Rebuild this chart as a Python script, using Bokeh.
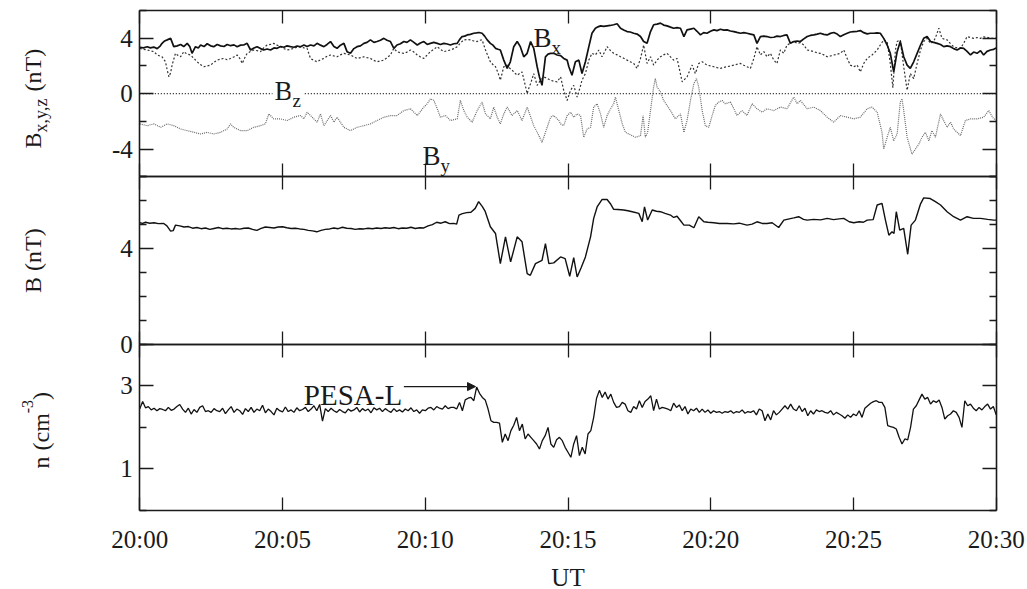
import numpy as np
from bokeh.plotting import figure
from bokeh.models import Range1d, LinearAxis, FixedTicker, Label, Arrow, NormalHead
from bokeh.embed import file_html
from bokeh.resources import INLINE

FONT = "Liberation Serif"
INK = "#1a1a1a"

# ---------------- data (minutes after 20:00 UT) ----------------
X_TICKS = [0, 5, 10, 15, 20, 25, 30]
X_TICK_LABELS = ["20:00", "20:05", "20:10", "20:15", "20:20", "20:25", "20:30"]

BXYZ_LIMITS = (-6, 6)
BXYZ_TICKS = [-4, 0, 4]
BXYZ_TICK_LABELS = ["-4", "0", "4"]
BXYZ_MINOR = [-6, -2, 2, 6]
B_LIMITS = (0, 7)
B_TICKS = [0, 4]
B_TICK_LABELS = ["0", "4"]
B_MINOR = [1, 2, 3, 5, 6, 7]
N_LIMITS = (0, 4)
N_TICKS = [1, 3]
N_TICK_LABELS = ["1", "3"]
N_MINOR = [0, 2, 4]
ZERO_LEVEL = 0.0

BX = [(0.0,3.35),(0.13,3.30),(0.26,3.38),(0.37,3.30),(0.49,3.36),(0.61,3.25),(0.72,3.45),(0.78,3.63),(0.87,3.80),(0.96,3.88),
      (1.08,3.99),(1.19,3.39),(1.31,3.45),(1.43,3.55),(1.54,3.40),(1.66,3.63),(1.75,3.40),(1.83,2.91),(1.95,3.39),(2.05,3.30),
      (2.13,3.51),(2.25,3.40),(2.36,3.60),(2.48,3.45),(2.59,3.39),(2.71,3.55),(2.83,3.45),(2.95,3.40),(3.06,3.55),(3.18,3.46),
      (3.30,3.52),(3.41,3.39),(3.53,3.50),(3.64,3.51),(3.76,3.63),(3.88,3.15),(4.00,3.30),(4.11,3.39),(4.23,3.25),(4.34,3.15),
      (4.46,3.22),(4.58,3.15),(4.70,3.30),(4.81,3.27),(4.93,3.40),(5.05,3.35),(5.16,3.45),(5.28,3.39),(5.40,3.35),(5.51,3.44),
      (5.63,3.38),(5.75,3.51),(5.86,3.40),(5.98,3.51),(6.10,3.45),(6.21,3.63),(6.33,3.50),(6.45,3.39),(6.56,3.55),(6.68,3.76),
      (6.80,3.40),(6.91,3.27),(7.03,3.50),(7.15,3.63),(7.26,3.03),(7.38,2.91),(7.50,3.25),(7.61,3.39),(7.73,3.45),(7.85,3.63),
      (7.96,3.70),(8.08,3.88),(8.20,3.70),(8.31,3.76),(8.43,3.85),(8.55,3.99),(8.66,3.85),(8.78,3.76),(8.90,3.27),(9.01,3.51),
      (9.13,3.60),(9.25,3.76),(9.36,3.70),(9.48,3.88),(9.60,3.70),(9.72,3.51),(9.83,3.65),(9.95,3.76),(10.07,3.55),(10.18,3.63),
      (10.30,3.70),(10.42,3.63),(10.53,3.55),(10.65,3.63),(10.77,3.58),(10.88,3.51),(11.00,3.60),(11.12,3.63),(11.20,3.90),(11.29,4.12),
      (11.38,4.15),(11.47,4.24),(11.58,4.28),(11.70,4.36),(11.80,4.38),(11.88,4.41),(11.99,4.36),(12.08,4.15),(12.17,3.88),(12.28,3.63),
      (12.37,3.50),(12.46,3.27),(12.55,3.20),(12.63,3.15),(12.75,2.42),(12.87,1.82),(12.98,2.30),(13.10,3.39),(13.22,3.76),(13.33,3.39),
      (13.45,2.66),(13.57,2.91),(13.69,3.76),(13.80,3.27),(13.92,1.94),(14.00,1.20),(14.09,0.60),(14.21,2.66),(14.30,2.85),(14.39,2.91),
      (14.50,2.91),(14.62,2.79),(14.74,2.75),(14.85,2.54),(14.97,2.42),(15.03,1.94),(15.14,1.33),(15.26,2.30),(15.38,2.42),(15.49,1.45),
      (15.61,2.30),(15.73,3.39),(15.84,4.36),(15.96,4.72),(16.05,4.82),(16.14,4.89),(16.25,4.85),(16.37,4.89),(16.48,4.92),(16.60,4.97),
      (16.72,5.04),(16.84,4.72),(16.95,4.60),(17.07,4.48),(17.18,4.45),(17.30,4.36),(17.42,4.30),(17.54,4.12),(17.65,3.76),(17.77,3.63),
      (17.89,4.48),(18.00,4.97),(18.12,5.02),(18.24,5.09),(18.35,4.95),(18.47,4.89),(18.59,4.80),(18.70,4.72),(18.82,4.76),(18.94,4.72),
      (19.06,4.12),(19.17,4.60),(19.29,4.66),(19.41,4.72),(19.52,4.50),(19.64,4.24),(19.75,4.40),(19.87,4.36),(19.99,4.50),(20.11,4.60),
      (20.22,4.55),(20.34,4.65),(20.46,4.58),(20.57,4.60),(20.69,4.52),(20.81,4.48),(20.92,4.42),(21.04,4.36),(21.16,4.40),(21.27,4.36),
      (21.39,4.30),(21.51,4.24),(21.62,3.63),(21.74,4.12),(21.86,4.15),(21.97,4.12),(22.09,4.05),(22.21,4.07),(22.32,4.15),(22.44,4.12),
      (22.56,4.20),(22.67,4.24),(22.79,3.63),(22.91,3.76),(23.03,3.80),(23.14,3.76),(23.26,3.95),(23.38,4.12),(23.49,4.20),(23.61,4.24),
      (23.73,4.30),(23.84,4.36),(23.96,4.28),(24.08,4.24),(24.19,4.35),(24.31,4.41),(24.43,4.30),(24.54,4.12),(24.66,4.25),(24.78,4.36),
      (24.89,4.45),(25.01,4.48),(25.13,4.50),(25.24,4.55),(25.36,4.40),(25.48,4.31),(25.59,4.36),(25.71,4.36),(25.83,4.38),(25.94,4.36),
      (26.06,3.99),(26.18,3.51),(26.29,2.91),(26.41,1.57),(26.53,3.03),(26.64,3.76),(26.76,2.66),(26.88,2.06),(26.99,1.82),(27.11,2.30),
      (27.23,2.91),(27.35,3.51),(27.46,3.99),(27.58,4.12),(27.70,3.76),(27.81,3.70),(27.93,3.63),(28.05,3.55),(28.16,3.39),(28.28,3.45),
      (28.40,3.39),(28.51,3.25),(28.63,3.15),(28.75,3.30),(28.86,3.27),(28.98,3.05),(29.10,2.79),(29.21,3.00),(29.33,2.91),(29.45,3.10),
      (29.56,2.79),(29.68,3.05),(29.80,3.15),(29.91,3.20),(30.0,3.30)]

BZ = [(0.0,3.27),(0.13,3.20),(0.26,3.15),(0.37,3.10),(0.49,3.03),(0.61,2.79),(0.72,2.70),(0.78,2.66),(0.90,2.30),(0.96,1.70),
      (1.02,1.21),(1.08,1.50),(1.13,2.06),(1.25,2.91),(1.34,2.75),(1.43,2.66),(1.54,3.03),(1.66,2.85),(1.78,2.79),(1.89,2.55),
      (2.01,2.30),(2.12,2.10),(2.24,1.94),(2.36,2.00),(2.48,2.06),(2.59,2.25),(2.71,2.42),(2.83,2.50),(2.94,2.54),(3.06,2.45),
      (3.18,2.54),(3.29,2.65),(3.41,2.79),(3.50,2.55),(3.59,2.18),(3.68,2.60),(3.76,2.91),(3.88,3.05),(3.99,3.15),(4.11,3.10),
      (4.23,3.03),(4.34,3.30),(4.46,3.51),(4.58,3.55),(4.69,3.63),(4.81,3.50),(4.93,3.39),(5.05,3.25),(5.16,3.15),(5.28,3.20),
      (5.40,3.27),(5.51,3.35),(5.63,3.39),(5.75,3.30),(5.86,3.27),(5.92,2.90),(5.98,2.54),(6.10,2.40),(6.21,2.30),(6.33,2.45),
      (6.45,2.54),(6.56,2.70),(6.68,2.79),(6.80,2.72),(6.91,2.66),(7.03,2.80),(7.15,2.91),(7.26,2.85),(7.38,2.79),(7.50,2.65),
      (7.61,2.54),(7.73,2.60),(7.85,2.66),(7.96,2.60),(8.08,2.54),(8.20,2.40),(8.31,2.30),(8.43,2.36),(8.55,2.42),(8.66,2.60),
      (8.78,2.79),(8.84,3.05),(8.90,3.27),(9.01,3.03),(9.13,2.95),(9.25,2.91),(9.36,3.00),(9.48,3.15),(9.60,3.00),(9.72,2.79),
      (9.83,2.65),(9.95,2.54),(10.07,2.80),(10.18,3.03),(10.30,3.20),(10.42,3.39),(10.53,3.20),(10.65,3.03),(10.77,3.10),(10.88,3.15),
      (11.00,3.25),(11.12,3.39),(11.23,3.65),(11.35,3.88),(11.47,3.90),(11.58,3.88),(11.70,3.80),(11.82,3.76),(11.90,3.85),(11.99,3.88),
      (12.11,3.15),(12.20,2.70),(12.28,2.30),(12.37,2.10),(12.46,1.94),(12.55,1.50),(12.63,0.97),(12.75,1.94),(12.87,2.06),(12.95,1.85),
      (13.04,1.70),(13.13,1.50),(13.22,1.33),(13.30,1.45),(13.39,1.57),(13.48,0.80),(13.57,0.00),(13.63,0.40),(13.69,0.73),(13.80,1.45),
      (13.92,0.60),(14.03,0.95),(14.15,1.21),(14.27,1.10),(14.39,0.97),(14.50,0.90),(14.62,0.85),(14.74,1.21),(14.85,0.24),(14.97,-0.49),
      (15.09,0.24),(15.20,0.60),(15.32,-0.25),(15.43,0.50),(15.49,0.97),(15.61,1.45),(15.73,2.42),(15.84,2.91),(15.96,2.79),(16.08,3.15),
      (16.19,2.66),(16.28,3.00),(16.37,3.39),(16.49,3.10),(16.60,2.91),(16.72,2.80),(16.84,2.66),(16.95,2.55),(17.07,2.42),(17.18,2.30),
      (17.30,2.18),(17.42,1.82),(17.54,2.54),(17.65,3.51),(17.77,2.18),(17.89,2.66),(18.00,2.06),(18.12,2.42),(18.24,2.66),(18.35,2.80),
      (18.47,2.91),(18.59,2.65),(18.70,2.42),(18.82,2.54),(18.91,1.70),(19.00,0.85),(19.17,1.21),(19.35,2.06),(19.46,1.45),(19.58,2.18),
      (19.70,2.30),(19.87,2.06),(19.99,2.00),(20.11,1.94),(20.22,1.88),(20.34,1.82),(20.46,1.90),(20.57,1.94),(20.69,2.00),(20.81,2.06),
      (20.92,2.12),(21.04,2.18),(21.16,2.05),(21.27,1.94),(21.39,1.82),(21.51,2.54),(21.62,3.39),(21.74,2.79),(21.86,3.03),(21.97,2.66),
      (22.09,2.91),(22.21,2.42),(22.32,2.18),(22.44,3.15),(22.56,2.91),(22.67,3.51),(22.79,3.63),(22.91,3.76),(23.03,3.63),(23.14,3.68),
      (23.26,3.51),(23.38,3.15),(23.49,3.10),(23.61,3.03),(23.73,2.95),(23.84,2.91),(23.96,2.80),(24.08,2.66),(24.19,2.72),(24.31,2.79),
      (24.43,2.85),(24.54,2.91),(24.66,3.15),(24.78,2.54),(24.89,2.06),(25.01,1.94),(25.13,2.06),(25.24,1.57),(25.36,2.18),(25.48,2.54),
      (25.65,2.79),(25.83,3.15),(25.94,3.51),(26.06,3.88),(26.18,3.76),(26.29,2.18),(26.38,0.43),(26.47,3.15),(26.53,3.76),(26.64,3.88),
      (26.76,1.94),(26.88,0.24),(26.99,1.45),(27.11,1.09),(27.23,2.18),(27.35,3.15),(27.46,3.76),(27.58,3.99),(27.70,3.63),(27.81,3.76),
      (27.90,4.20),(27.99,4.72),(28.10,3.99),(28.28,3.88),(28.40,3.60),(28.51,3.39),(28.63,3.30),(28.75,3.27),(28.86,3.63),(28.98,4.12),
      (29.10,4.05),(29.21,3.99),(29.33,4.05),(29.45,3.99),(29.56,4.10),(29.68,4.07),(29.80,4.00),(29.91,3.99),(30.0,4.00)]

BY = [(0.0,-2.18),(0.26,-2.31),(0.49,-2.18),(0.73,-2.43),(0.96,-2.18),(1.19,-2.31),(1.43,-2.55),(1.66,-2.67),(1.89,-2.79),(2.13,-2.91),
      (2.36,-2.79),(2.59,-2.91),(2.83,-2.79),(3.06,-2.55),(3.18,-2.18),(3.29,-2.43),(3.53,-2.67),(3.76,-2.67),(3.99,-2.43),(4.23,-2.31),
      (4.40,-2.18),(4.52,-1.46),(4.69,-1.82),(4.93,-1.82),(5.16,-1.94),(5.40,-1.70),(5.63,-1.58),(5.75,-1.82),(5.86,-1.34),(6.04,-1.70),
      (6.21,-2.06),(6.33,-1.46),(6.45,-2.31),(6.68,-1.58),(6.80,-2.06),(6.91,-1.70),(7.15,-2.43),(7.38,-2.67),(7.61,-2.43),(7.85,-2.31),
      (8.08,-2.18),(8.31,-1.94),(8.55,-1.70),(8.78,-1.58),(9.01,-1.58),(9.25,-1.22),(9.48,-1.09),(9.72,-1.58),(9.95,-0.97),(10.07,-0.73),
      (10.18,-0.37),(10.30,-0.49),(10.42,-1.09),(10.53,-1.70),(10.71,-1.58),(10.88,-1.94),(11.12,-1.82),(11.23,-0.49),(11.35,-1.22),(11.47,-1.70),
      (11.64,-2.06),(11.82,-1.22),(11.99,-0.61),(12.11,-1.46),(12.28,-1.82),(12.40,-0.97),(12.52,-1.70),(12.63,-2.18),(12.75,-1.46),(12.87,-0.97),
      (13.04,-1.58),(13.22,-1.22),(13.39,-1.94),(13.57,-0.97),(13.80,-2.31),(13.98,-3.03),(14.09,-3.52),(14.21,-2.79),(14.39,-1.70),(14.50,-1.58),
      (14.68,-1.94),(14.74,-2.18),(14.85,-2.31),(14.97,-1.58),(15.09,-1.34),(15.20,-1.70),(15.32,-1.46),(15.44,-1.58),(15.55,-3.15),(15.67,-2.55),
      (15.79,-2.43),(15.90,-0.97),(16.02,-0.73),(16.14,-1.46),(16.25,-2.43),(16.37,-1.58),(16.49,-1.09),(16.60,-0.73),(16.66,-0.25),(16.78,-1.22),
      (16.90,-2.18),(17.01,-2.79),(17.13,-2.91),(17.25,-3.03),(17.36,-3.15),(17.54,-3.03),(17.63,-1.58),(17.71,-3.15),(17.79,-2.79),(17.89,-1.22),
      (18.00,0.48),(18.06,1.09),(18.12,0.48),(18.24,0.12),(18.35,-0.49),(18.47,-0.85),(18.59,-1.22),(18.76,-1.82),(18.94,-1.46),(19.06,-2.79),
      (19.17,-1.94),(19.29,-0.49),(19.41,0.73),(19.50,1.09),(19.58,0.48),(19.70,-1.22),(19.81,-2.31),(19.93,-2.43),(20.05,-1.58),(20.16,-0.85),
      (20.28,-0.61),(20.40,-0.49),(20.51,-0.73),(20.69,-0.61),(20.81,-1.09),(20.92,-1.58),(21.10,-1.22),(21.27,-1.58),(21.45,-0.73),(21.62,-1.09),
      (21.80,-1.34),(21.97,-1.09),(22.21,-1.22),(22.44,-0.97),(22.67,-1.09),(22.91,-0.25),(23.03,-0.73),(23.14,-0.49),(23.38,-1.09),(23.61,-0.97),
      (23.84,-1.22),(24.08,-1.70),(24.31,-2.06),(24.54,-1.58),(24.78,-1.70),(25.01,-1.82),(25.24,-1.70),(25.48,-1.09),(25.65,-0.97),(25.83,-1.34),
      (26.00,-2.79),(26.06,-4.00),(26.18,-3.15),(26.29,-2.43),(26.41,-3.40),(26.53,-2.91),(26.64,-0.61),(26.70,-0.37),(26.76,-1.22),(26.88,-3.15),
      (27.05,-4.37),(27.17,-4.00),(27.29,-3.64),(27.40,-3.15),(27.52,-2.79),(27.64,-3.40),(27.75,-2.67),(27.87,-3.15),(28.05,-1.46),(28.16,-1.94),
      (28.28,-2.43),(28.40,-2.06),(28.51,-2.55),(28.75,-3.03),(28.92,-1.94),(29.10,-1.82),(29.33,-1.82),(29.56,-1.70),(29.74,-1.22),(29.91,-1.82),
      (30.0,-1.90)]

BMAG = [(0.0,5.08),(0.1,5.05),(0.2,5.10),(0.35,5.06),(0.5,5.08),(0.65,5.04),(0.84,5.05),(0.95,4.95),(1.08,4.73),(1.17,4.75),
        (1.25,4.98),(1.4,4.95),(1.55,4.90),(1.7,4.92),(1.85,4.85),(2.0,4.88),(2.15,4.83),(2.3,4.86),(2.45,4.80),(2.6,4.84),
        (2.75,4.88),(2.9,4.83),(3.05,4.85),(3.2,4.82),(3.35,4.84),(3.5,4.81),(3.65,4.85),(3.8,4.86),(3.95,4.80),(4.1,4.76),
        (4.25,4.84),(4.4,4.90),(4.55,4.88),(4.7,4.86),(4.85,4.90),(5.0,4.91),(5.15,4.87),(5.3,4.84),(5.45,4.85),(5.6,4.82),
        (5.75,4.80),(5.9,4.76),(6.05,4.74),(6.2,4.70),(6.35,4.76),(6.5,4.80),(6.65,4.82),(6.8,4.86),(6.95,4.83),(7.1,4.89),
        (7.25,4.85),(7.4,4.84),(7.55,4.80),(7.7,4.83),(7.85,4.82),(8.0,4.85),(8.15,4.83),(8.3,4.86),(8.45,4.84),(8.6,4.87),
        (8.75,4.85),(8.9,4.88),(9.05,4.83),(9.2,4.86),(9.35,4.85),(9.5,4.89),(9.65,4.84),(9.8,4.87),(9.95,4.86),(10.1,4.95),
        (10.25,5.00),(10.4,5.10),(10.55,5.06),(10.7,5.12),(10.85,5.04),(11.0,5.05),(11.1,5.02),(11.18,5.40),(11.3,5.46),(11.45,5.50),
        (11.6,5.52),(11.75,5.68),(11.87,5.96),(12.0,5.75),(12.1,5.55),(12.28,4.91),(12.46,4.63),(12.63,3.37),(12.81,4.49),(12.99,3.44),
        (13.22,4.49),(13.39,4.28),(13.57,2.95),(13.68,2.88),(13.86,3.37),(14.09,3.51),(14.21,4.21),(14.33,3.37),(14.5,3.40),(14.74,3.65),
        (14.9,3.58),(15.06,2.84),(15.2,3.62),(15.32,2.81),(15.46,3.20),(15.61,3.65),(15.79,4.49),(15.9,5.26),(16.02,5.74),(16.19,6.05),
        (16.37,6.05),(16.5,5.85),(16.6,5.64),(16.75,5.63),(16.95,5.61),(17.1,5.58),(17.25,5.54),(17.48,5.47),(17.6,5.12),(17.68,5.74),
        (17.79,5.19),(17.95,5.61),(18.1,5.56),(18.24,5.54),(18.4,5.47),(18.59,5.40),(18.7,5.30),(18.82,5.35),(18.95,5.15),(19.06,4.98),
        (19.25,4.98),(19.41,4.87),(19.58,5.33),(19.76,5.12),(19.9,5.10),(20.11,5.08),(20.3,5.05),(20.57,5.05),(20.8,5.03),(21.0,5.06),
        (21.27,4.98),(21.45,5.02),(21.62,5.12),(21.8,5.05),(21.97,5.05),(22.15,5.08),(22.38,4.88),(22.56,5.19),(22.75,5.24),(22.91,5.28),
        (23.08,5.33),(23.25,5.22),(23.38,5.19),(23.6,5.22),(23.85,5.20),(24.08,5.26),(24.3,5.21),(24.5,5.24),(24.66,5.26),(24.85,5.12),
        (25.01,5.08),(25.2,5.12),(25.35,5.10),(25.48,5.19),(25.69,5.21),(25.83,5.82),(26.0,5.89),(26.12,5.19),(26.24,4.56),(26.35,4.70),
        (26.42,4.63),(26.5,5.54),(26.62,4.77),(26.76,4.84),(26.9,3.76),(27.02,4.98),(27.17,5.19),(27.35,5.87),(27.46,6.12),(27.69,6.09),
        (27.87,5.96),(28.05,5.82),(28.28,5.54),(28.51,5.33),(28.75,5.19),(28.98,5.33),(29.2,5.26),(29.45,5.26),(29.7,5.22),(29.91,5.19),
        (30.0,5.19)]

# PESA-L density, one sample every 0.1 min (rows = whole minutes 0..29, then 30.0)
N_VALUES = [
    2.45, 2.62, 2.47, 2.50, 2.42, 2.46, 2.40, 2.45, 2.43, 2.40,
    2.48, 2.41, 2.44, 2.50, 2.55, 2.44, 2.36, 2.46, 2.32, 2.43,
    2.36, 2.48, 2.52, 2.38, 2.40, 2.36, 2.45, 2.40, 2.38, 2.46,
    2.33, 2.42, 2.50, 2.36, 2.44, 2.40, 2.31, 2.45, 2.38, 2.48,
    2.36, 2.44, 2.40, 2.53, 2.35, 2.44, 2.38, 2.30, 2.46, 2.40,
    2.37, 2.49, 2.38, 2.42, 2.36, 2.47, 2.40, 2.43, 2.48, 2.38,
    2.44, 2.52, 2.40, 2.55, 2.15, 2.45, 2.38, 2.46, 2.40, 2.36,
    2.43, 2.38, 2.35, 2.44, 2.39, 2.42, 2.48, 2.37, 2.45, 2.40,
    2.44, 2.35, 2.47, 2.42, 2.46, 2.38, 2.45, 2.40, 2.36, 2.45,
    2.38, 2.42, 2.37, 2.44, 2.40, 2.47, 2.38, 2.42, 2.34, 2.42,
    2.40, 2.46, 2.48, 2.42, 2.50, 2.46, 2.44, 2.52, 2.45, 2.48,
    2.48, 2.44, 2.60, 2.40, 2.66, 2.70, 2.72, 2.64, 2.97, 2.82,
    2.72, 2.66, 2.44, 2.16, 2.12, 2.12, 2.10, 1.64, 1.84, 1.68,
    1.92, 2.05, 2.24, 1.92, 2.08, 1.72, 1.84, 1.76, 1.68, 1.60,
    1.48, 1.68, 1.80, 2.00, 1.60, 1.52, 1.70, 1.76, 1.68, 1.52,
    1.40, 1.28, 1.60, 1.80, 1.32, 1.52, 1.36, 1.84, 1.92, 2.24,
    2.70, 2.89, 2.72, 2.85, 2.68, 2.80, 2.60, 2.48, 2.50, 2.60,
    2.56, 2.40, 2.36, 2.50, 2.44, 2.64, 2.48, 2.62, 2.68, 2.76,
    2.40, 2.68, 2.44, 2.48, 2.46, 2.44, 2.40, 2.58, 2.48, 2.54,
    2.40, 2.50, 2.32, 2.44, 2.40, 2.46, 2.36, 2.44, 2.36, 2.42,
    2.34, 2.40, 2.36, 2.38, 2.34, 2.38, 2.36, 2.40, 2.34, 2.38,
    2.36, 2.42, 2.34, 2.38, 2.36, 2.40, 2.30, 2.44, 2.40, 2.16,
    2.32, 2.18, 2.40, 2.30, 2.36, 2.44, 2.52, 2.44, 2.56, 2.44,
    2.40, 2.52, 2.38, 2.46, 2.28, 2.40, 2.32, 2.42, 2.38, 2.40,
    2.36, 2.34, 2.40, 2.30, 2.36, 2.32, 2.28, 2.22, 2.30, 2.24,
    2.32, 2.28, 2.40, 2.24, 2.46, 2.52, 2.58, 2.62, 2.64, 2.60,
    2.60, 2.48, 2.04, 2.02, 2.00, 1.96, 1.76, 1.60, 1.72, 1.70,
    2.00, 2.44, 2.52, 2.66, 2.80, 2.68, 2.72, 2.56, 2.64, 2.60,
    2.66, 2.48, 2.20, 2.28, 2.32, 2.40, 2.36, 2.24, 2.00, 2.64,
    2.52, 2.56, 2.46, 2.40, 2.48, 2.42, 2.50, 2.56, 2.44, 2.50,
    2.30]
N_TIMES = [i / 10 for i in range(len(N_VALUES))]


def split(pairs):
    return [a for a, _ in pairs], [b for _, b in pairs]


# ---------------- layout (one canvas, three stacked panels) ----------------
W, H = 1027, 589
X_LEFT, X_RIGHT = 139.3, 995.7            # canvas px of 20:00 and 20:30
T0, T1 = X_TICKS[0], X_TICKS[-1]
PPX = (X_RIGHT - X_LEFT) / (T1 - T0)
PANEL_BOX = {"bxyz": (10.0, 176.3), "bmag": (176.3, 343.7), "dens": (343.7, 510.0)}
PANEL_LIM = {"bxyz": BXYZ_LIMITS, "bmag": B_LIMITS, "dens": N_LIMITS}


def panel_range(name):
    top, bottom = PANEL_BOX[name]
    lo, hi = PANEL_LIM[name]
    ppu = (bottom - top) / (hi - lo)
    return Range1d(lo - (H - bottom) / ppu, hi + top / ppu)


p = figure(width=W, height=H,
           x_range=Range1d(T0 - X_LEFT / PPX, T1 + (W - X_RIGHT) / PPX),
           y_range=panel_range("dens"),
           x_axis_location=None, y_axis_location=None,
           output_backend="svg", toolbar_location=None, min_border=0)
p.extra_y_ranges = {k: panel_range(k) for k in PANEL_BOX}
p.grid.visible = False
p.outline_line_color = None
p.background_fill_color = "white"
p.border_fill_color = "white"


def style_axis(ax, major_in, minor_in):
    ax.axis_line_color = INK
    ax.axis_line_width = 1.6
    ax.major_tick_in = major_in
    ax.major_tick_out = 0
    ax.minor_tick_in = minor_in
    ax.minor_tick_out = 0
    ax.major_tick_line_color = INK
    ax.minor_tick_line_color = INK
    ax.major_tick_line_width = 1.3
    ax.minor_tick_line_width = 1.3
    ax.major_label_text_font = FONT
    ax.major_label_text_font_size = "25px"
    ax.major_label_text_color = INK


def add_panel_axes(name, ticks, tick_labels, minor, time_labels=False):
    lo, hi = PANEL_LIM[name]
    for side, loc in (("left", T0), ("right", T1)):
        ax = LinearAxis(y_range_name=name, fixed_location=loc, bounds=(lo, hi),
                        ticker=FixedTicker(ticks=ticks, minor_ticks=minor))
        style_axis(ax, 14, 7)
        if side == "left":
            ax.major_label_standoff = 7
            ax.major_label_overrides = dict(zip(ticks, tick_labels))
        else:
            ax.major_label_text_color = None
        p.add_layout(ax, side)
    for side, loc in (("above", hi), ("below", lo)):
        ax = LinearAxis(y_range_name=name, fixed_location=loc, bounds=(T0, T1),
                        ticker=FixedTicker(ticks=X_TICKS, minor_ticks=[]))
        style_axis(ax, 13, 0)
        if time_labels and side == "below":
            ax.major_label_overrides = dict(zip(X_TICKS, X_TICK_LABELS))
            ax.major_label_standoff = 15
            ax.axis_label = "UT"
            ax.axis_label_text_font = FONT
            ax.axis_label_text_font_size = "25px"
            ax.axis_label_text_font_style = "normal"
            ax.axis_label_text_color = INK
            ax.axis_label_standoff = 8
        else:
            ax.major_label_text_color = None
        p.add_layout(ax, side)


def txt(panel, x, y, s, size, angle=0.0, align="left", bg=None):
    lab = Label(x=x, y=y, y_range_name=panel, text=s, text_font=FONT, text_font_size=size,
                text_color=INK, text_align=align, text_baseline="alphabetic", angle=angle)
    if bg:
        lab.background_fill_color = bg
        lab.padding = 2
    p.add_layout(lab)


HALF_PI = np.pi / 2

# ---------------- panel 1: Bx, By, Bz ----------------
add_panel_axes("bxyz", BXYZ_TICKS, BXYZ_TICK_LABELS, BXYZ_MINOR)
p.line([T0, T1], [ZERO_LEVEL, ZERO_LEVEL], y_range_name="bxyz",
       line_color=INK, line_width=1.4, line_dash="1 2")
t, v = split(BY)
p.line(t, v, y_range_name="bxyz", line_color="#6a6a6a", line_width=1.2, line_dash="1 1")
t, v = split(BZ)
p.line(t, v, y_range_name="bxyz", line_color="#333333", line_width=1.2, line_dash="2 2")
t, v = split(BX)
p.line(t, v, y_range_name="bxyz", line_color="#111111", line_width=1.7)

txt("bxyz", 13.79, 3.98, "B", "27px")
txt("bxyz", 14.42, 3.35, "x", "19px")
txt("bxyz", 4.65, 0.18, "B", "27px", bg="white")
txt("bxyz", 5.28, -0.47, "z", "19px", bg="white")
txt("bxyz", 9.90, -4.51, "B", "27px")
txt("bxyz", 10.53, -5.22, "y", "19px")

txt("bxyz", -3.74, -3.96, "B", "24px", angle=HALF_PI)
txt("bxyz", -3.46, -2.80, "x,y,z", "18px", angle=HALF_PI)
txt("bxyz", -3.74, 0.16, "(nT)", "24px", angle=HALF_PI)

# ---------------- panel 2: |B| ----------------
add_panel_axes("bmag", B_TICKS, B_TICK_LABELS, B_MINOR)
t, v = split(BMAG)
p.line(t, v, y_range_name="bmag", line_color="#111111", line_width=1.4)
txt("bmag", -3.74, 2.14, "B (nT)", "24px", angle=HALF_PI)

# ---------------- panel 3: n ----------------
add_panel_axes("dens", N_TICKS, N_TICK_LABELS, N_MINOR, time_labels=True)
p.line(N_TIMES, N_VALUES, y_range_name="dens", line_color="#111111", line_width=1.3)
txt("dens", 9.19, 2.79, "PESA-L", "29px", align="right")
p.add_layout(Arrow(end=NormalHead(size=8, fill_color=INK, line_color=INK),
                   x_start=9.25, y_start=2.98, x_end=11.76, y_end=2.98, y_range_name="dens",
                   line_color=INK, line_width=1.1))
txt("dens", -3.46, 1.01, "n (cm", "24px", angle=HALF_PI)
txt("dens", -3.95, 2.34, "-3", "16px", angle=HALF_PI)
txt("dens", -3.46, 2.66, ")", "24px", angle=HALF_PI)

open("out.html", "w").write(file_html(p, INLINE))
